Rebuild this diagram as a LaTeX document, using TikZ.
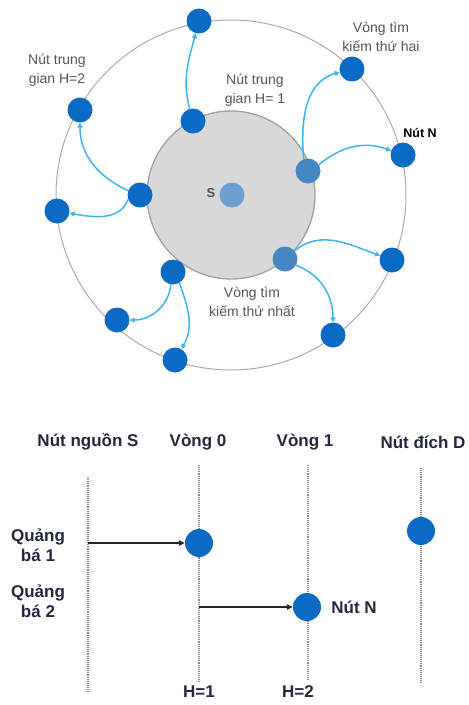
\documentclass[tikz,border=0pt]{standalone}
\usepackage{fontspec}
\setmainfont{Liberation Sans}
\usetikzlibrary{arrows.meta}
\definecolor{nodeblue}{RGB}{10,106,196}
\definecolor{paleblue}{RGB}{70,135,195}
\definecolor{arrowblue}{RGB}{60,180,240}
\definecolor{ringgray}{RGB}{170,170,170}
\definecolor{innerfill}{RGB}{216,216,216}
\definecolor{labgray}{RGB}{85,85,85}
\definecolor{dark}{RGB}{35,40,60}
\tikzset{
  dot/.style={circle,fill=nodeblue,inner sep=0pt,minimum size=25pt},
  paledot/.style={circle,fill=paleblue,inner sep=0pt,minimum size=25pt},
  bigdot/.style={circle,fill=nodeblue,inner sep=0pt,minimum size=28pt},
  hop/.style={draw=arrowblue,line width=1.5pt,-{Triangle[length=5pt,width=5pt]}},
  lab/.style={text=labgray,font=\fontsize{14}{19}\selectfont,align=center},
  hdr/.style={text=dark,font=\fontsize{17}{20}\selectfont\bfseries,align=center},
  vline/.style={draw=gray!95,line width=1.1pt,densely dotted},
  send/.style={draw=black!85,line width=1.3pt,-{Triangle[length=6pt,width=5.5pt]}}
}
\begin{document}
\begin{tikzpicture}[x=1pt,y=-1pt]
\useasboundingbox (0,0) rectangle (469,705);
% top part
\draw[ringgray,line width=1pt] (231,195) circle (175);
\draw[fill=innerfill,draw=gray!75,line width=1.3pt] (231,195) circle (84);
\node[circle,fill=paleblue!80,inner sep=0pt,minimum size=25pt] (s) at (232,195) {};
\node[text=labgray,font=\fontsize{13}{13}\selectfont\bfseries] (slab) at (211,193) {S};

\node[dot] (n1) at (199,21) {};
\node[dot] (n2) at (193,121) {};
\node[dot] (n3) at (80,110) {};
\node[dot] (n4) at (140,195) {};
\node[dot] (n5) at (57,211) {};
\node[paledot] (n6) at (308,171) {};
\node[dot] (n7) at (352,69) {};
\node[dot] (n8) at (403,155) {};
\node[paledot] (n9) at (285,259) {};
\node[dot] (n10) at (392,260) {};
\node[dot] (n11) at (333,335) {};
\node[dot] (n12) at (173,272) {};
\node[dot] (n13) at (117,320) {};
\node[dot] (n14) at (175,360) {};

\draw[hop] (n2) to[out=105,in=-105] (n1);
\draw[hop] (n6.110) to[out=95,in=195] (n7);
\draw[hop] (n6.30) to[out=40,in=160] (n8);
\draw[hop] (n4.160) to[out=155,in=-90] (n3);
\draw[hop] (n4.200) to[out=-110,in=-10] (n5);
\draw[hop] (n9.40) to[out=40,in=160] (n10);
\draw[hop] (n9.-30) to[out=-20,in=90] (n11);
\draw[hop] (n12.-100) to[out=-95,in=0] (n13);
\draw[hop] (n12.-60) to[out=-70,in=60] (n14);

\node[lab] (l1) at (57,70) {Nút trung\\gian H=2};
\node[lab] (l2) at (255,90) {Nút trung\\gian H= 1};
\node[lab] (l3) at (381,37) {Vòng tìm\\kiếm thứ hai};
\node[lab] (l4) at (252,302) {Vòng tìm\\kiếm thứ nhất};
\node[text=black,font=\fontsize{12.5}{13}\selectfont\bfseries] (l5) at (420,133) {Nút N};

% bottom part
\node[hdr] (h0) at (88,442) {Nút nguồn S};
\node[hdr] (h1) at (198,442) {Vòng 0};
\node[hdr] (h2) at (305,442) {Vòng 1};
\node[hdr,anchor=west] (h3) at (377,442) {Nút đích D};

\coordinate (s0t) at (88,477);
\coordinate (s0b) at (88,692);
\coordinate (v0t) at (199,465);
\coordinate (v0b) at (199,682);
\coordinate (v1t) at (308,465);
\coordinate (v1b) at (308,680);
\coordinate (dt) at (421,468);
\coordinate (db) at (421,683);
\draw[vline] (s0t) -- (s0b);
\draw[vline] (v0t) -- (v0b);
\draw[vline] (v1t) -- (v1b);
\draw[vline] (dt) -- (db);

\node[bigdot] (b0) at (199,543) {};
\node[bigdot] (b1) at (307,607) {};
\node[bigdot] (bd) at (421,531) {};

\coordinate (a0) at (88,543);
\coordinate (a1) at (199,607);
\draw[send] (a0) -- (b0);
\draw[send] (a1) -- (b1);

\node[hdr] (q1) at (38,545) {Quảng\\bá 1};
\node[hdr] (q2) at (38,601) {Quảng\\bá 2};
\node[hdr] (nn) at (354,607) {Nút N};
\node[hdr] (hh1) at (199,692) {H=1};
\node[hdr] (hh2) at (298,692) {H=2};
\end{tikzpicture}
\end{document}
